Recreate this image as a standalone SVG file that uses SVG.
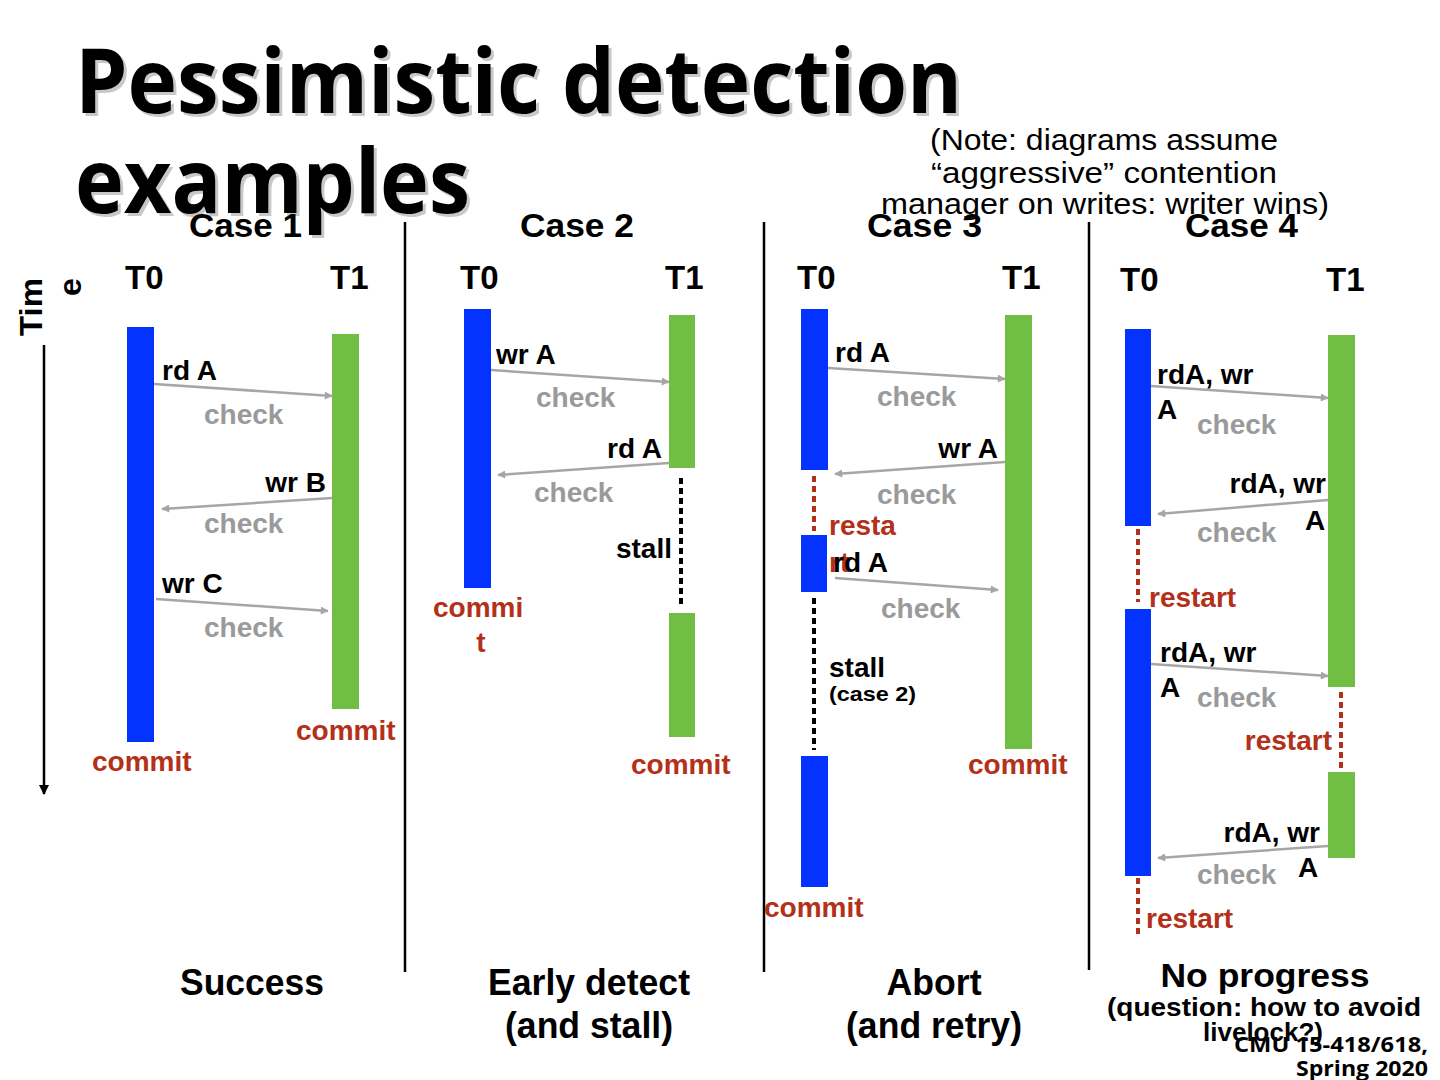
<svg xmlns="http://www.w3.org/2000/svg" width="1440" height="1080" viewBox="0 0 1440 1080">
<defs>
<style>
.t{font-family:"Liberation Sans",Arial,sans-serif;font-weight:bold}
.ttl{font-family:"Open Sans","Noto Sans",sans-serif;font-weight:bold;font-size:90px}
.lbl{font-size:28px;fill:#000}
.chk{font-size:28px;fill:#9a9a9a}
.red{font-size:28px;fill:#b3301a}
.hd{font-size:34px;fill:#000}
.th{font-size:33px;fill:#000}
.bot{font-size:36px;fill:#000}
.blue{fill:#0433ff}
.green{fill:#70bf44}
.msg{stroke:#a6a6a6;stroke-width:2.5;fill:none;marker-end:url(#ah)}
.sep{stroke:#000;stroke-width:2.5}
.dotk{stroke:#000;stroke-width:4;stroke-dasharray:6 4}
.dotr{stroke:#b3301a;stroke-width:4;stroke-dasharray:6 4}
</style>
<marker id="ah" viewBox="0 0 10 10" refX="9" refY="5" markerWidth="10" markerHeight="8" markerUnits="userSpaceOnUse" orient="auto"><path d="M0,0 L10,5 L0,10 z" fill="#a6a6a6"/></marker>
<marker id="ahk" viewBox="0 0 10 10" refX="9" refY="5" markerWidth="12" markerHeight="10" markerUnits="userSpaceOnUse" orient="auto"><path d="M0,0 L10,5 L0,10 z" fill="#000"/></marker>
</defs>
<rect x="0" y="0" width="1440" height="1080" fill="#fff"/>

<g id="title">
<text class="ttl" x="78" y="116" fill="#c8c8c8" textLength="887" lengthAdjust="spacingAndGlyphs">Pessimistic detection</text>
<text class="ttl" x="75" y="113" fill="#000" textLength="887" lengthAdjust="spacingAndGlyphs">Pessimistic detection</text>
<text class="ttl" x="78" y="216" fill="#c8c8c8" textLength="395" lengthAdjust="spacingAndGlyphs">examples</text>
<text class="ttl" x="75" y="213" fill="#000" textLength="395" lengthAdjust="spacingAndGlyphs">examples</text>
</g>

<g id="note" class="t" font-size="29" text-anchor="middle" fill="#000">
<text x="1104" y="150" textLength="348" lengthAdjust="spacingAndGlyphs" style="font-weight:normal">(Note: diagrams assume</text>
<text x="1104" y="183" textLength="346" lengthAdjust="spacingAndGlyphs" style="font-weight:normal">“aggressive” contention</text>
<text x="1105" y="214" textLength="448" lengthAdjust="spacingAndGlyphs" style="font-weight:normal">manager on writes: writer wins)</text>
</g>

<g id="time-axis">
<text class="t" font-size="32" transform="translate(42,336) rotate(-90)" textLength="58" lengthAdjust="spacingAndGlyphs">Tim</text>
<text class="t" font-size="32" transform="translate(81,296) rotate(-90)">e</text>
<line x1="44" y1="345" x2="44" y2="794" stroke="#000" stroke-width="2.5" marker-end="url(#ahk)"/>
</g>

<g id="separators">
<line class="sep" x1="405" y1="222" x2="405" y2="972"/>
<line class="sep" x1="764" y1="222" x2="764" y2="972"/>
<line class="sep" x1="1089" y1="222" x2="1089" y2="970"/>
</g>

<g id="headings" class="t">
<text class="hd" x="189" y="237" textLength="113" lengthAdjust="spacingAndGlyphs">Case 1</text>
<text class="hd" x="520" y="237" textLength="114" lengthAdjust="spacingAndGlyphs">Case 2</text>
<text class="hd" x="867" y="237" textLength="115" lengthAdjust="spacingAndGlyphs">Case 3</text>
<text class="hd" x="1185" y="237" textLength="113" lengthAdjust="spacingAndGlyphs">Case 4</text>
<text class="th" x="125" y="289">T0</text>
<text class="th" x="330" y="289">T1</text>
<text class="th" x="460" y="289">T0</text>
<text class="th" x="665" y="289">T1</text>
<text class="th" x="797" y="289">T0</text>
<text class="th" x="1002" y="289">T1</text>
<text class="th" x="1120" y="291">T0</text>
<text class="th" x="1326" y="291">T1</text>
</g>

<!-- Case 1 -->
<g id="c1-t0"><rect class="blue" x="127" y="327" width="27" height="415"/></g>
<g id="c1-t1"><rect class="green" x="332" y="334" width="27" height="375"/></g>
<!-- Case 2 -->
<g id="c2-t0"><rect class="blue" x="464" y="309" width="27" height="279"/></g>
<g id="c2-t1a"><rect class="green" x="669" y="315" width="26" height="153"/></g>
<g id="c2-t1b"><rect class="green" x="669" y="613" width="26" height="124"/></g>
<!-- Case 3 -->
<g id="c3-t0a"><rect class="blue" x="801" y="309" width="27" height="161"/></g>
<g id="c3-t0b"><rect class="blue" x="801" y="535" width="26" height="57"/></g>
<g id="c3-t0c"><rect class="blue" x="801" y="756" width="27" height="131"/></g>
<g id="c3-t1"><rect class="green" x="1005" y="315" width="27" height="434"/></g>
<!-- Case 4 -->
<g id="c4-t0a"><rect class="blue" x="1125" y="329" width="26" height="197"/></g>
<g id="c4-t0b"><rect class="blue" x="1125" y="609" width="26" height="267"/></g>
<g id="c4-t1a"><rect class="green" x="1328" y="335" width="27" height="352"/></g>
<g id="c4-t1b"><rect class="green" x="1328" y="772" width="27" height="86"/></g>

<g id="connectors">
<line class="msg" x1="154" y1="384" x2="332" y2="396"/>
<line class="msg" x1="332" y1="498" x2="162" y2="509"/>
<line class="msg" x1="156" y1="599" x2="328" y2="611"/>
<line class="msg" x1="491" y1="370" x2="669" y2="382"/>
<line class="msg" x1="669" y1="463" x2="498" y2="475"/>
<line class="dotk" x1="681" y1="478" x2="681" y2="606"/>
<line class="msg" x1="828" y1="368" x2="1005" y2="379"/>
<line class="msg" x1="1005" y1="462" x2="835" y2="474"/>
<line class="dotr" x1="814" y1="476" x2="814" y2="531"/>
<line class="msg" x1="835" y1="578" x2="998" y2="590"/>
<line class="dotk" x1="814" y1="598" x2="814" y2="750"/>
<line class="msg" x1="1151" y1="386" x2="1328" y2="398"/>
<line class="msg" x1="1328" y1="500" x2="1158" y2="514"/>
<line class="dotr" x1="1138" y1="529" x2="1138" y2="602"/>
<line class="msg" x1="1151" y1="664" x2="1328" y2="676"/>
<line class="dotr" x1="1341" y1="692" x2="1341" y2="768"/>
<line class="msg" x1="1328" y1="846" x2="1158" y2="858"/>
<line class="dotr" x1="1138" y1="878" x2="1138" y2="935"/>
</g>

<g id="labels" class="t">
<!-- case 1 -->
<text class="lbl" x="162" y="380">rd A</text>
<text class="chk" x="204" y="424">check</text>
<text class="lbl" x="326" y="492" text-anchor="end">wr B</text>
<text class="chk" x="204" y="533">check</text>
<text class="lbl" x="162" y="593">wr C</text>
<text class="chk" x="204" y="637">check</text>
<text class="red" x="92" y="771">commit</text>
<text class="red" x="296" y="740">commit</text>
<!-- case 2 -->
<text class="lbl" x="496" y="364">wr A</text>
<text class="chk" x="536" y="407">check</text>
<text class="lbl" x="662" y="458" text-anchor="end">rd A</text>
<text class="chk" x="534" y="502">check</text>
<text class="lbl" x="672" y="558" text-anchor="end">stall</text>
<text class="red" x="433" y="617">commi</text>
<text class="red" x="481" y="652" text-anchor="middle">t</text>
<text class="red" x="631" y="774">commit</text>
<!-- case 3 -->
<text class="lbl" x="835" y="362">rd A</text>
<text class="chk" x="877" y="406">check</text>
<text class="lbl" x="998" y="458" text-anchor="end">wr A</text>
<text class="chk" x="877" y="504">check</text>
<text class="red" x="829" y="535">resta</text>
<text class="red" x="829" y="572">rt</text>
<text class="lbl" x="833" y="572">rd A</text>
<text class="chk" x="881" y="618">check</text>
<text class="lbl" x="829" y="677">stall</text>
<text x="829" y="701" font-size="21" fill="#000" textLength="87" lengthAdjust="spacingAndGlyphs">(case 2)</text>
<text class="red" x="764" y="917">commit</text>
<text class="red" x="968" y="774">commit</text>
<!-- case 4 -->
<text class="lbl" x="1157" y="384">rdA, wr</text>
<text class="lbl" x="1157" y="419">A</text>
<text class="chk" x="1197" y="434">check</text>
<text class="lbl" x="1326" y="493" text-anchor="end">rdA, wr</text>
<text class="lbl" x="1305" y="530">A</text>
<text class="chk" x="1197" y="542">check</text>
<text class="red" x="1149" y="607">restart</text>
<text class="lbl" x="1160" y="662">rdA, wr</text>
<text class="lbl" x="1160" y="697">A</text>
<text class="chk" x="1197" y="707">check</text>
<text class="red" x="1332" y="750" text-anchor="end">restart</text>
<text class="lbl" x="1320" y="842" text-anchor="end">rdA, wr</text>
<text class="lbl" x="1298" y="877">A</text>
<text class="chk" x="1197" y="884">check</text>
<text class="red" x="1146" y="928">restart</text>
</g>

<g id="outcomes" class="t" text-anchor="middle">
<text class="bot" x="252" y="995" textLength="144" lengthAdjust="spacingAndGlyphs">Success</text>
<text class="bot" x="589" y="995" textLength="202" lengthAdjust="spacingAndGlyphs">Early detect</text>
<text class="bot" x="589" y="1038" textLength="168" lengthAdjust="spacingAndGlyphs">(and stall)</text>
<text class="bot" x="934" y="995" textLength="95" lengthAdjust="spacingAndGlyphs">Abort</text>
<text class="bot" x="934" y="1038" textLength="176" lengthAdjust="spacingAndGlyphs">(and retry)</text>
<text x="1265" y="987" font-size="34" fill="#000" textLength="209" lengthAdjust="spacingAndGlyphs">No progress</text>
<text x="1264" y="1016" font-size="26" fill="#000" textLength="314" lengthAdjust="spacingAndGlyphs">(question: how to avoid</text>
<text x="1263" y="1041" font-size="26" fill="#000">livelock?)</text>
</g>

<g id="footer" font-family="'Open Sans','Noto Sans',sans-serif" font-weight="bold" font-size="22" fill="#000" text-anchor="end">
<text x="1428" y="1052" textLength="194" lengthAdjust="spacingAndGlyphs">CMU 15-418/618,</text>
<text x="1428" y="1076" textLength="132" lengthAdjust="spacingAndGlyphs">Spring 2020</text>
</g>
</svg>
